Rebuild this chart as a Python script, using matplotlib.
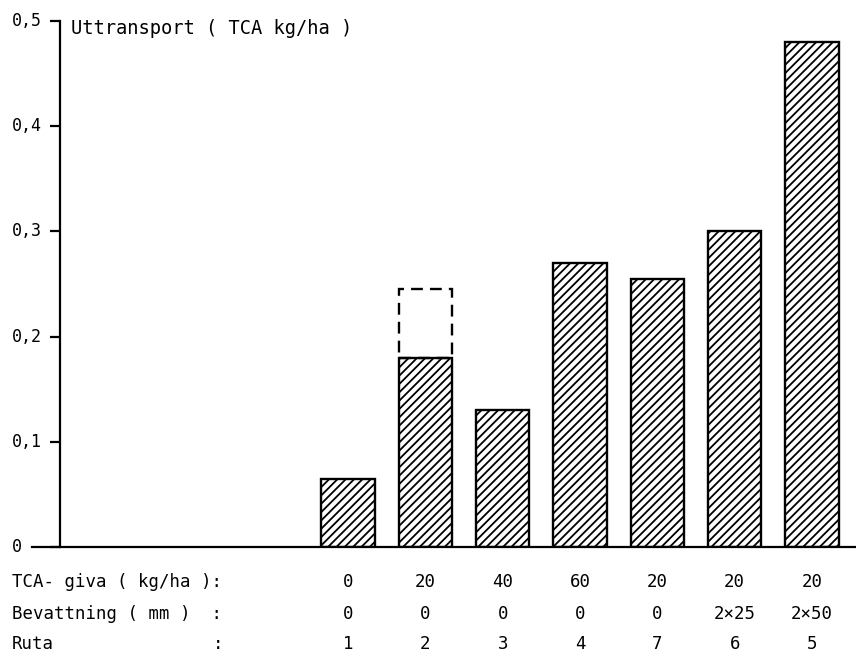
import matplotlib.pyplot as plt, numpy as np
import matplotlib.transforms as mt

plt.rcParams['font.family'] = ['DejaVu Sans Mono']
plt.rcParams['hatch.linewidth'] = 1.3

ruta = ['1', '2', '3', '4', '7', '6', '5']
tca = ['0', '20', '40', '60', '20', '20', '20']
bev = ['0', '0', '0', '0', '0', '2×25', '2×50']
uttransport = [0.065, 0.18, 0.13, 0.27, 0.255, 0.30, 0.48]
extra_top = 0.245                      # dashed outline above ruta 2
yticks = [0, 0.1, 0.2, 0.3, 0.4, 0.5]
ylabels = ['0', '0,1', '0,2', '0,3', '0,4', '0,5']

W, H = 856, 657
fig = plt.figure(figsize=(W/100, H/100), dpi=100)
ax = fig.add_axes([32/W, 1-547/H, (W-32)/W, (547-21)/H])

x = np.arange(len(ruta))
ax.bar(x, uttransport, width=0.69, color='white', edgecolor='black',
       linewidth=1.7, hatch='////')
ax.bar(x[1], extra_top-uttransport[1], bottom=uttransport[1], width=0.69,
       fill=False, edgecolor='black', linewidth=1.7, linestyle=(0, (5, 3)))

ax.set_xlim(-4.09, 6.57)
ax.set_ylim(0, 0.5)
for s in ['top', 'right']:
    ax.spines[s].set_visible(False)
ax.spines['left'].set_position(('data', -3.73))
ax.spines['left'].set_linewidth(1.6)
ax.spines['bottom'].set_linewidth(1.6)
ax.set_xticks([])
ax.set_yticks(yticks)
ax.tick_params(axis='y', direction='out', length=7, width=1.6, labelleft=False)

# tick labels are left-aligned in the original
tr = mt.blended_transform_factory(fig.transFigure, ax.transData)
for v, lab in zip(yticks, ylabels):
    ax.text(12/W, v, lab, transform=tr, ha='left', va='center', fontsize=12)

ax.text(-3.58, 0.493, 'Uttransport ( TCA kg/ha )', ha='left', va='center', fontsize=13.5)

# table under the bars
trx = mt.blended_transform_factory(ax.transData, fig.transFigure)
rows = [('TCA- giva ( kg/ha ):', tca, 582), ('Bevattning ( mm )  :', bev, 614),
        ('Ruta', ruta, 644)]
for lab, vals, py in rows:
    fig.text(12/W, 1-py/H, lab, ha='left', va='center', fontsize=12.5)
    for xi, v in zip(x, vals):
        ax.text(xi, 1-py/H, v, transform=trx, ha='center', va='center', fontsize=12.5)
fig.text(218/W, 1-644/H, ':', ha='center', va='center', fontsize=12.5)

fig.savefig('out.png', dpi=100, facecolor='white')
